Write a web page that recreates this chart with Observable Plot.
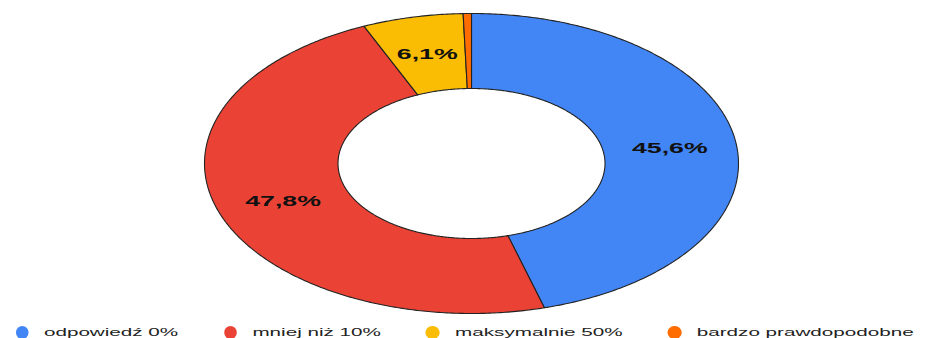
<!DOCTYPE html>
<html><head><meta charset="utf-8">
<script src="https://cdn.jsdelivr.net/npm/d3@7"></script>
<script src="https://cdn.jsdelivr.net/npm/@observablehq/plot@0.6"></script>
<style>
body{margin:0;background:#fff;font-family:"Liberation Sans",Arial,sans-serif;}
#chart{position:relative;width:931px;height:338px;overflow:hidden;}
#legend{position:absolute;top:325px;left:0;width:540px;transform:scaleX(1.78);transform-origin:0 0;display:flex;align-items:center;padding-left:8.5px;font-size:11.6px;line-height:14px;color:#222;white-space:nowrap;}
#legend .item{display:flex;align-items:center;margin-right:25.5px;}
#legend .dot{width:7.6px;height:13px;border-radius:50%;margin-right:8.6px;flex:none;}
</style></head><body>
<div id="chart"></div>
<script>
const categories = ["odpowiedź 0%", "mniej niż 10%", "maksymalnie 50%", "bardzo prawdopodobne"];
const values = [45.6, 47.8, 6.1, 0.5];
const labels = ["45,6%", "47,8%", "6,1%", ""];
const colors = ["#4285f4", "#ea4335", "#fbbc04", "#ff6d01"];

const total = d3.sum(values);
const inner = 0.5, outer = 1;
let acc = 0;
const slices = categories.map((c, i) => {
  const a0 = acc / total * 2 * Math.PI;
  acc += values[i];
  const a1 = acc / total * 2 * Math.PI;
  return {key: c, a0, a1, label: labels[i]};
});
const pts = [];
for (const s of slices) {
  const n = Math.max(2, Math.ceil((s.a1 - s.a0) / 0.01));
  for (let k = 0; k <= n; k++) {
    const a = s.a0 + (s.a1 - s.a0) * k / n;
    pts.push({key: s.key, x: outer * Math.sin(a), y: outer * Math.cos(a)});
  }
  for (let k = n; k >= 0; k--) {
    const a = s.a0 + (s.a1 - s.a0) * k / n;
    pts.push({key: s.key, x: inner * Math.sin(a), y: inner * Math.cos(a)});
  }
}
const lab = slices.filter(s => s.label).map(s => {
  const m = (s.a0 + s.a1) / 2, r = (inner + outer) / 2;
  return {x: r * Math.sin(m), y: r * Math.cos(m), label: s.label};
});

const svg = Plot.plot({
  width: 931, height: 318,
  x: {domain: [-1, 1], range: [204, 738], axis: null},
  y: {domain: [-1, 1], range: [313, 13], axis: null},
  color: {domain: categories, range: colors},
  style: {background: "transparent"},
  marks: [
    Plot.line(pts, {x: "x", y: "y", z: "key", fill: "key", stroke: "#222", strokeWidth: 1.1, curve: "linear-closed"}),
    Plot.text(lab, {x: "x", y: "y", text: "label", fontSize: 15, fontWeight: "bold", fontFamily: "Liberation Sans, Arial, sans-serif", fill: "#111"})
  ]
});
svg.querySelectorAll('g[aria-label="text"] text').forEach(t => {
  const tr = t.getAttribute("transform");
  if (tr) t.setAttribute("transform", tr + " scale(1.78,1)");
  else {
    const x = +t.getAttribute("x") || 0, y = +t.getAttribute("y") || 0;
    t.setAttribute("transform", `translate(${x},${y}) scale(1.78,1) translate(${-x},${-y})`);
  }
});
const chart = document.getElementById("chart");
chart.appendChild(svg);
const legend = document.createElement("div");
legend.id = "legend";
categories.forEach((c, i) => {
  const it = document.createElement("div"); it.className = "item";
  const d = document.createElement("span"); d.className = "dot"; d.style.background = colors[i];
  const t = document.createElement("span"); t.textContent = c;
  it.appendChild(d); it.appendChild(t); legend.appendChild(it);
});
chart.appendChild(legend);
</script>
</body></html>
